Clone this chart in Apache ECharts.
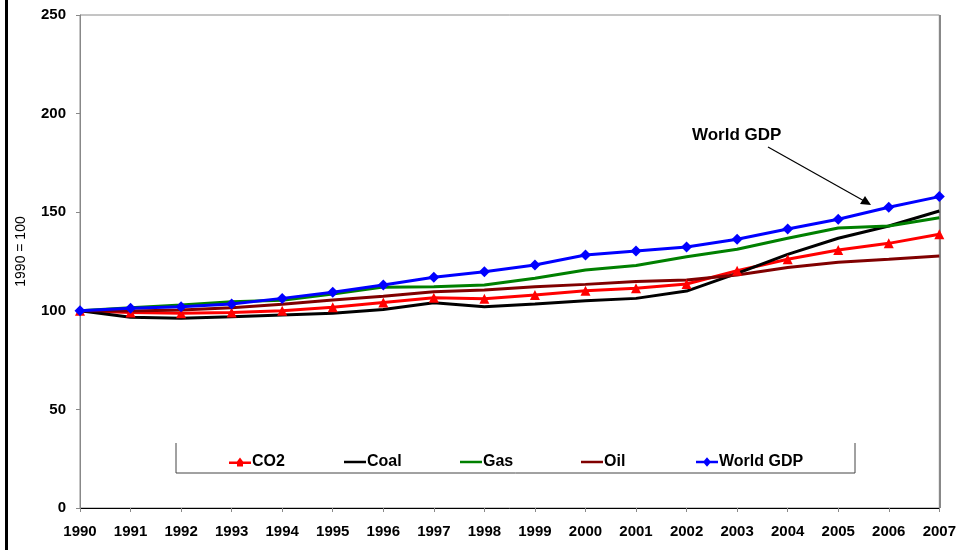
<!DOCTYPE html>
<html>
<head>
<meta charset="utf-8">
<script src="https://cdn.jsdelivr.net/npm/echarts@6/dist/echarts.min.js"></script>
<style>
html,body{margin:0;padding:0;background:#fff;}
#chart{width:959px;height:550px;}
</style>
</head>
<body>
<div id="chart"></div>
<script>
var years = ['1990','1991','1992','1993','1994','1995','1996','1997','1998','1999','2000','2001','2002','2003','2004','2005','2006','2007'];
var co2   = [100, 99.2, 98.7, 99.2, 100.0, 101.8, 104.2, 106.6, 106.1, 108.0, 110.2, 111.4, 113.6, 120.3, 126.1, 130.8, 134.2, 138.8];
var coal  = [100, 96.7, 96.2, 97.0, 97.9, 98.7, 100.7, 104.1, 102.1, 103.4, 105.1, 106.3, 110.0, 119.0, 128.6, 136.8, 143.0, 150.6];
var gas   = [100, 101.6, 102.9, 104.6, 105.3, 108.5, 112.0, 112.2, 113.1, 116.5, 120.7, 123.0, 127.4, 131.2, 136.8, 142.0, 143.0, 147.2];
var oil   = [100, 99.9, 100.4, 101.6, 103.3, 105.5, 107.4, 109.7, 110.5, 112.2, 113.4, 114.8, 115.6, 118.2, 122.0, 124.6, 126.1, 127.8];
var gdp   = [100, 101.3, 102.1, 103.4, 106.3, 109.4, 113.1, 117.0, 119.8, 123.2, 128.3, 130.3, 132.4, 136.3, 141.5, 146.4, 152.5, 157.9];
var seriesNames = ['CO2', 'Coal', 'Gas', 'Oil', 'World GDP'];

var chart = echarts.init(document.getElementById('chart'));
var font = 'Liberation Sans, Arial, sans-serif';
var iconLine = 'path://M0,4 L22,4 L22,6.5 L0,6.5 Z';
var iconTri = 'path://M0,4 L8,4 L11,0 L14,4 L22,4 L22,6.5 L14,6.5 L14,9 L8,9 L8,6.5 L0,6.5 Z';
var iconDia = 'path://M0,4 L8,4 L11,0.5 L14,4 L22,4 L22,6.5 L14,6.5 L11,10 L8,6.5 L0,6.5 Z';
var legendIcons = [iconTri, iconLine, iconLine, iconLine, iconDia];
var legendLefts = [229, 344, 460, 581, 696];

function line(name, data, color, symbol, size) {
  return {
    name: name, type: 'line', data: data,
    symbol: symbol, symbolSize: size, showSymbol: symbol !== 'none',
    lineStyle: {color: color, width: 3},
    itemStyle: {color: color},
    animation: false
  };
}
var legends = seriesNames.map(function (n, i) {
  return {
    left: legendLefts[i], top: 454, itemWidth: 22, itemHeight: 10, padding: 0,
    textStyle: {fontFamily: font, fontWeight: 'bold', fontSize: 16, color: '#000', padding: [0,0,0,-4]},
    data: [{name: n, icon: legendIcons[i]}]
  };
});
chart.setOption({
  backgroundColor: '#fff',
  animation: false,
  grid: {left: 80, right: 19, top: 15, bottom: 42, show: true, borderColor: '#8a8a8a', borderWidth: 1},
  legend: legends,
  xAxis: {
    type: 'category', data: years, boundaryGap: false,
    axisLine: {lineStyle: {color: '#000', width: 1}},
    axisTick: {show: true, length: 4, lineStyle: {color: '#888'}},
    axisLabel: {fontFamily: font, fontWeight: 'bold', fontSize: 15, color: '#000', margin: 16},
    splitLine: {show: false}
  },
  yAxis: {
    type: 'value', min: 0, max: 250, interval: 50,
    name: '1990 = 100', nameLocation: 'middle', nameGap: 52, nameRotate: 90,
    nameTextStyle: {fontFamily: font, fontSize: 14, color: '#000', padding: [0, 0, 0, 20]},
    axisLine: {show: true, lineStyle: {color: '#888'}},
    axisTick: {show: true, length: 4, lineStyle: {color: '#888'}},
    axisLabel: {fontFamily: font, fontWeight: 'bold', fontSize: 15, color: '#000', margin: 14},
    splitLine: {show: false}
  },
  series: [
    line('CO2', co2, '#ff0000', 'triangle', 10),
    line('Coal', coal, '#000000', 'none', 0),
    line('Gas', gas, '#008000', 'none', 0),
    line('Oil', oil, '#800000', 'none', 0),
    line('World GDP', gdp, '#0000ff', 'diamond', 11)
  ],
  graphic: [
    {type: 'rect', left: 5, top: 0, shape: {width: 3, height: 550}, style: {fill: '#000'}},
    {type: 'rect', left: 939, top: 15, shape: {width: 2, height: 493}, style: {fill: '#888'}},
    {type: 'polyline', shape: {points: [[176, 443], [176, 473], [855, 473], [855, 443]]}, style: {stroke: '#444', lineWidth: 1, fill: null}},
    {type: 'text', left: 692, top: 127, style: {text: 'World GDP', font: 'bold 17px ' + font, fill: '#000'}},
    {type: 'line', shape: {x1: 768, y1: 147, x2: 866, y2: 202}, style: {stroke: '#000', lineWidth: 1.2}},
    {type: 'polygon', shape: {points: [[871, 205], [860, 204], [865, 196]]}, style: {fill: '#000'}}
  ]
});
</script>
</body>
</html>
